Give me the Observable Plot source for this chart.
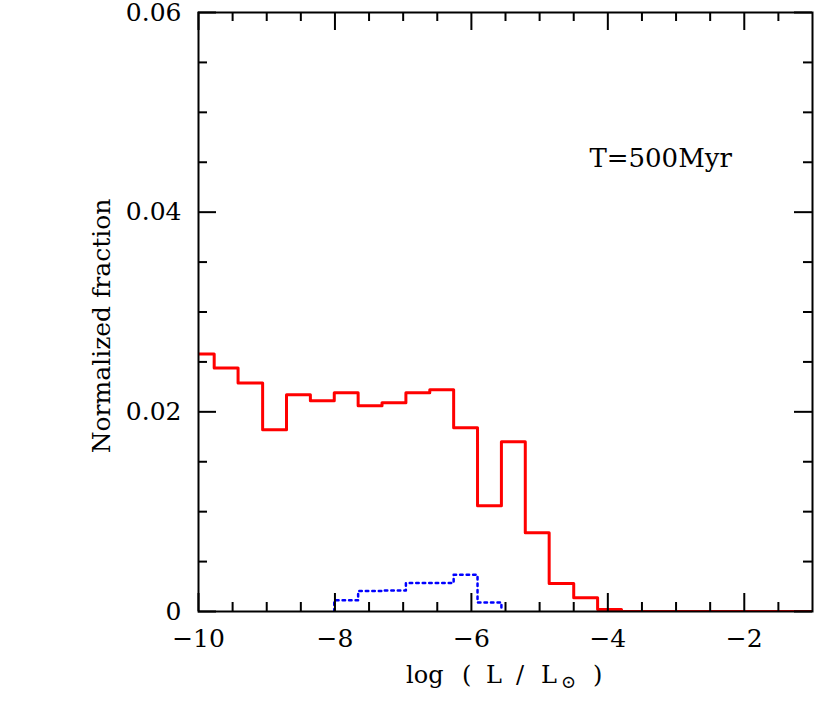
<!DOCTYPE html>
<html>
<head>
<meta charset="utf-8">
<script src="https://cdn.jsdelivr.net/npm/d3@7"></script>
<script src="https://cdn.jsdelivr.net/npm/@observablehq/plot@0.6"></script>
<style>
  html, body { margin: 0; padding: 0; background: white; }
  svg { display: block; }
</style>
</head>
<body>
<div id="chart"></div>
<script>
// ---- data ----
// red solid histogram: bin edges and heights
const redEdges = [-10, -9.77, -9.42, -9.06, -8.71, -8.36, -8.01, -7.66, -7.31, -6.96, -6.61, -6.26, -5.91, -5.56, -5.21, -4.86, -4.50, -4.15, -3.80, -1];
const redValues = [0.0258, 0.0244, 0.0229, 0.0182, 0.0217, 0.0211, 0.0219, 0.0206, 0.0209, 0.0219, 0.0222, 0.0184, 0.0106, 0.0170, 0.0079, 0.0028, 0.00137, 0.0002, 0];
// blue dotted histogram
const blueEdges = [-8.01, -7.66, -7.31, -6.96, -6.61, -6.26, -5.91, -5.56];
const blueValues = [0.00112, 0.00205, 0.0021, 0.00286, 0.00286, 0.00367, 0.0009];
// ticks
const xMajor = [-10, -8, -6, -4, -2];
const xMinor = [-9.5, -9, -8.5, -7.5, -7, -6.5, -5.5, -5, -4.5, -3.5, -3, -2.5, -1.5];
const yMajor = [0, 0.02, 0.04, 0.06];
const yMinor = [0.005, 0.01, 0.015, 0.025, 0.03, 0.035, 0.045, 0.05, 0.055];
const annotation = [{x: -4.27, y: 0.0454, text: "T=500Myr"}];

// ---- build step outlines from bins ----
function steps(edges, values, closeEnds) {
  const pts = [];
  if (closeEnds) pts.push({x: edges[0], y: 0});
  values.forEach((v, i) => {
    pts.push({x: edges[i], y: v});
    pts.push({x: edges[i + 1], y: v});
  });
  if (closeEnds) pts.push({x: edges[edges.length - 1], y: 0});
  return pts;
}
const redPts = steps(redEdges, redValues, false);
const bluePts = steps(blueEdges, blueValues, true);

const W = 814, H = 718;
const mL = 198, mR = 2, mT = 12, mB = 107;
const pw = W - mL - mR, ph = H - mT - mB;
const majorLen = 18, minorLen = 9;

const chart = Plot.plot({
  width: W,
  height: H,
  marginLeft: mL,
  marginRight: mR,
  marginTop: mT,
  marginBottom: mB,
  style: {fontFamily: "'DejaVu Serif', serif", fontSize: "25px", background: "white", color: "black", overflow: "visible"},
  x: {domain: [-10, -1]},
  y: {domain: [0, 0.06]},
  marks: [
    Plot.line(redPts, {x: "x", y: "y", stroke: "#ff0000", strokeWidth: 3, clip: true}),
    Plot.line(bluePts, {x: "x", y: "y", stroke: "#0000ff", strokeWidth: 2.5, strokeDasharray: "2.5,4", clip: true}),
    // inward ticks, all four sides
    Plot.ruleX(xMajor, {x: d => d, insetTop: ph - majorLen, stroke: "black", strokeWidth: 2}),
    Plot.ruleX(xMajor, {x: d => d, insetBottom: ph - majorLen, stroke: "black", strokeWidth: 2}),
    Plot.ruleX(xMinor, {x: d => d, insetTop: ph - minorLen, stroke: "black", strokeWidth: 2}),
    Plot.ruleX(xMinor, {x: d => d, insetBottom: ph - minorLen, stroke: "black", strokeWidth: 2}),
    Plot.ruleY(yMajor, {y: d => d, insetRight: pw - majorLen, stroke: "black", strokeWidth: 2}),
    Plot.ruleY(yMajor, {y: d => d, insetLeft: pw - majorLen, stroke: "black", strokeWidth: 2}),
    Plot.ruleY(yMinor, {y: d => d, insetRight: pw - minorLen, stroke: "black", strokeWidth: 2}),
    Plot.ruleY(yMinor, {y: d => d, insetLeft: pw - minorLen, stroke: "black", strokeWidth: 2}),
    Plot.frame({stroke: "black", strokeWidth: 2}),
    Plot.axisX(xMajor, {anchor: "bottom", tickSize: 0, tickPadding: 18, label: null, fontSize: 25}),
    Plot.axisY(yMajor, {anchor: "left", tickSize: 0, tickPadding: 17, label: null, fontSize: 25,
      tickFormat: d => d === 0 ? "0" : d.toFixed(2)}),
    Plot.text(annotation, {x: "x", y: "y", text: "text", textAnchor: "start", lineAnchor: "middle", fontSize: 26, fill: "black"})
  ]
});

document.getElementById("chart").appendChild(chart);

// axis titles
const svg = d3.select(chart);
const xl = svg.append("text")
  .attr("y", 683)
  .attr("fill", "black")
  .attr("text-anchor", "start")
  .style("font-family", "'DejaVu Serif', serif")
  .style("font-size", "24px");
xl.append("tspan").attr("x", 406).text("log");
xl.append("tspan").attr("x", 462).text("(");
xl.append("tspan").attr("x", 486).text("L");
xl.append("tspan").attr("x", 516).text("/");
xl.append("tspan").attr("x", 541).text("L");
xl.append("tspan").attr("x", 561).attr("dy", 5).style("font-size", "18px").text("⊙");
xl.append("tspan").attr("x", 593).attr("dy", -5).text(")");

svg.append("text")
  .attr("transform", "translate(110,326) rotate(-90)")
  .attr("text-anchor", "middle")
  .attr("fill", "black")
  .style("font-family", "'DejaVu Serif', serif")
  .style("font-size", "25px")
  .text("Normalized fraction");
</script>
</body>
</html>
